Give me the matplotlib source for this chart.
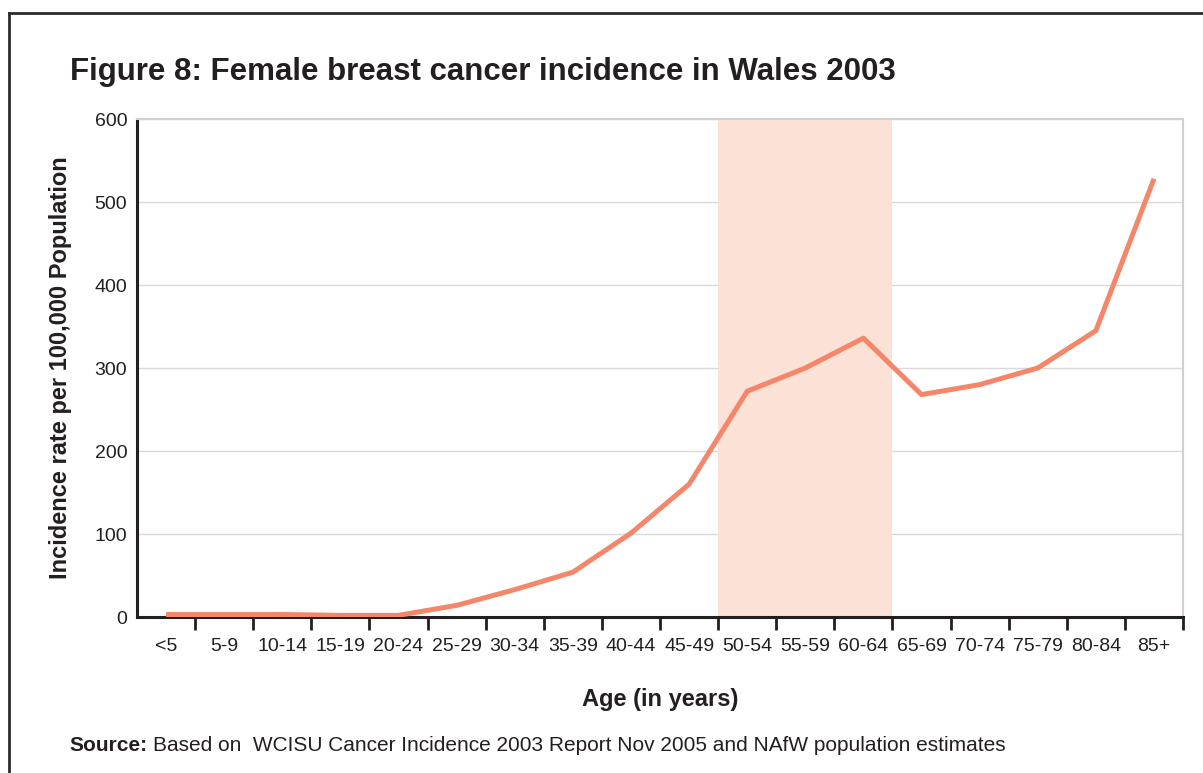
import numpy as np
import matplotlib
matplotlib.use("Agg")
import matplotlib.pyplot as plt
from matplotlib.lines import Line2D

plt.rcParams["font.family"] = ["Liberation Sans", "DejaVu Sans"]

# Age bands and incidence rate per 100,000 females
age_bands = ["<5", "5-9", "10-14", "15-19", "20-24", "25-29", "30-34", "35-39",
             "40-44", "45-49", "50-54", "55-59", "60-64", "65-69", "70-74",
             "75-79", "80-84", "85+"]
incidence = [3, 3, 3, 2, 2, 14, 33, 54, 101, 160, 272, 300, 336, 268, 280,
             300, 345, 528]

# Screening age range (50-64) shown as a shaded band
screening_start = "50-54"
screening_end = "60-64"

LINE_COLOR = "#F4866A"
BAND_COLOR = "#FCE1D6"
TEXT_COLOR = "#231F20"

fig = plt.figure(figsize=(12.03, 7.73), dpi=100)
ax = fig.add_axes([0.1139, 0.2018, 0.8695, 0.6442])

x = np.arange(len(age_bands))
i0 = age_bands.index(screening_start)
i1 = age_bands.index(screening_end)
ax.axvspan(i0 - 0.5, i1 + 0.5, color=BAND_COLOR, lw=0, zorder=1)

ax.plot(x, incidence, color=LINE_COLOR, linewidth=3.6, solid_capstyle="butt",
        zorder=3)

ax.set_xlim(-0.5, len(age_bands) - 0.5)
ax.set_ylim(0, 600)
ax.set_yticks(np.arange(0, 601, 100))
ax.yaxis.grid(True, color="#D9D9D9", linewidth=1)
ax.set_axisbelow(True)
ax.tick_params(axis="y", length=0, pad=7, labelsize=14, colors=TEXT_COLOR)

# Boundaries carry the tick marks, centres carry the labels
ax.set_xticks(x + 0.5)
ax.set_xticklabels([])
ax.set_xticks(x, minor=True)
ax.set_xticklabels(age_bands, minor=True)
ax.tick_params(axis="x", which="major", direction="out", length=9, width=2,
               color=TEXT_COLOR)
ax.tick_params(axis="x", which="minor", length=0, pad=15, labelsize=14,
               colors=TEXT_COLOR)

for side in ("left", "bottom"):
    ax.spines[side].set_color(TEXT_COLOR)
    ax.spines[side].set_linewidth(2.2)
for side in ("top", "right"):
    ax.spines[side].set_color("#D0D0D0")
    ax.spines[side].set_linewidth(1.5)

ax.set_ylabel("Incidence rate per 100,000 Population", fontsize=17,
              fontweight="bold", labelpad=16, color=TEXT_COLOR)
ax.set_xlabel("Age (in years)", fontsize=17, fontweight="bold",
              labelpad=24, color=TEXT_COLOR)

fig.text(0.058, 0.907, "Figure 8: Female breast cancer incidence in Wales 2003",
         fontsize=22.5, fontweight="bold", color=TEXT_COLOR, va="center")

src = fig.text(0.058, 0.036, "Source:", fontsize=15, fontweight="bold",
               color=TEXT_COLOR, va="center")
fig.canvas.draw()
bb = src.get_window_extent().transformed(fig.transFigure.inverted())
fig.text(bb.x1 + 0.004, 0.036, "Based on  WCISU Cancer Incidence 2003 Report Nov 2005 and NAfW population estimates",
         fontsize=15, color=TEXT_COLOR, va="center")

# Frame round the figure
fig.add_artist(Line2D([0.0075, 1.0], [0.983, 0.983], transform=fig.transFigure,
                      color="#2B2B2B", linewidth=2))
fig.add_artist(Line2D([0.0075, 0.0075], [0.0, 0.983], transform=fig.transFigure,
                      color="#2B2B2B", linewidth=2))

fig.savefig("out.png", dpi=100)
